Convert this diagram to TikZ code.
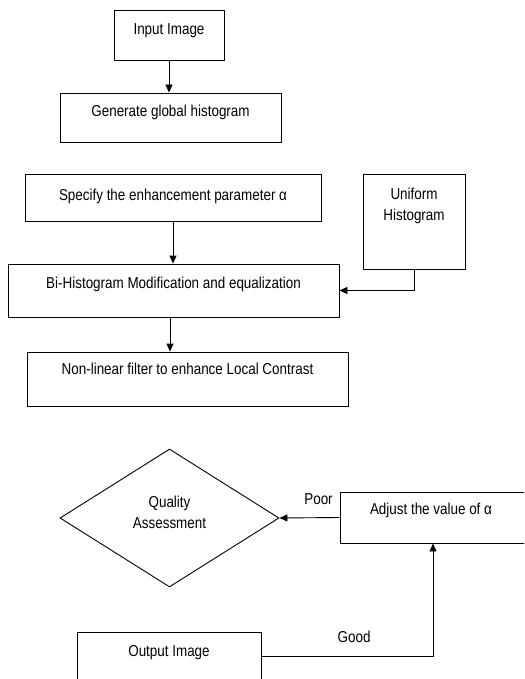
\documentclass[tikz,border=0pt]{standalone}
\usepackage{fontspec}
\setmainfont{Liberation Sans}[FakeStretch=0.85]
\usetikzlibrary{positioning,shapes.geometric,arrows.meta}
\tikzset{
  stepbox/.style = {shape=rectangle, draw, inner sep=0pt, align=center},
  decide/.style  = {shape=diamond, draw, inner sep=0pt, aspect=1.6,
                    minimum width=219pt, minimum height=138pt, align=center},
  lbl/.style     = {inner sep=0pt}
}

\begin{document}
\begin{tikzpicture}[x=1pt,y=-1pt,->,>={Triangle[length=8pt,width=7pt]},
   line width=0.9pt, font=\fontsize{15.8}{21}\selectfont]
\useasboundingbox (0,0) rectangle (524,679);
\clip (0,0) rectangle (524,679);
% upper chain
\node [stepbox, minimum width=110pt, text height=24.6pt, text depth=25.4pt] (input) at (169,35) {Input Image};
\node [stepbox, minimum width=221pt, text height=23.6pt, text depth=25.4pt] (histo) at (170.5,117.5) {Generate global histogram};
\node [stepbox, minimum width=296pt, text height=26.6pt, text depth=20.4pt] (alpha) at (173,197.5) {Specify the enhancement parameter α};
\node [stepbox, minimum width=102pt, text height=46pt, text depth=49pt] (uniform) at (414,221.5) {Uniform\\Histogram};
\node [stepbox, minimum width=331pt, text height=24.6pt, text depth=28.4pt] (bihist) at (173.5,290.5) {Bi-Histogram Modification and equalization};
\node [stepbox, minimum width=321pt, text height=22.6pt, text depth=31.4pt] (filter) at (187.5,379) {Non-linear filter to enhance Local Contrast};
% feedback loop
\node [decide, text height=35.5pt, text depth=15.5pt] (quality) at (169.5,518) {Quality\\Assessment};
\node [stepbox, text width=140pt, inner xsep=30pt, align=flush left, text height=22.6pt, text depth=28.4pt] (adjust) at (440,517.5) {Adjust the value of α};
\node [stepbox, minimum width=184pt, text height=24.6pt, text depth=23.4pt] (output) at (169,656) {Output Image};

\draw (input.south) -- (input.south |- histo.north);
\draw (alpha.south) -- (alpha.south |- bihist.north);
\draw (uniform.south) |- (bihist.east);
\draw ([xshift=-3.5pt]bihist.south) -- ([xshift=-3.5pt]bihist.south |- filter.north);
\draw (adjust.west) -- node [lbl, pos=0.35, above=12.8pt] {Poor} (quality.east);
\draw (output.east) -| node [lbl, pos=0.27, above=13.3pt] {Good} ([xshift=-7pt]adjust.south);
\end{tikzpicture}
\end{document}
